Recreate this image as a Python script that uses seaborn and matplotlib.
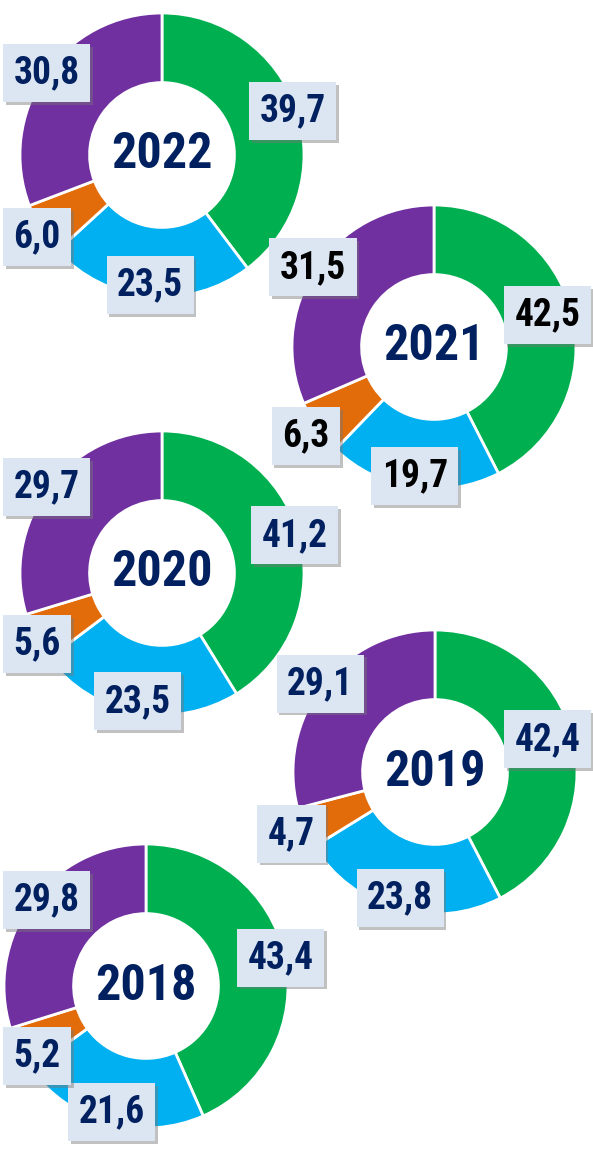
import numpy as np
import matplotlib
matplotlib.use("Agg")
import matplotlib.pyplot as plt
import matplotlib.patheffects as pe
import seaborn as sns
from matplotlib import font_manager

sns.set_theme(style="white")

years = ["2022", "2021", "2020", "2019", "2018"]
green = [39.7, 42.5, 41.2, 42.4, 43.4]
blue = [23.5, 19.7, 23.5, 23.8, 21.6]
orange = [6.0, 6.3, 5.6, 4.7, 5.2]
purple = [30.8, 31.5, 29.7, 29.1, 29.8]
label_colors = ["#002060", "#000000", "#002060", "#002060", "#002060"]

colors = ["#00B050", "#00B0F0", "#E36C0A", "#7030A0"]
# radial placement of value labels per segment (fraction of outer radius)
label_radius = [0.97, 0.92, 1.1, 1.02]

# donut centres in pixel layout (x, y from top)
centers = [(162, 155), (434, 347), (162, 573), (435, 772), (146, 986)]
R = 142

names = {f.name for f in font_manager.fontManager.ttflist}
cands = ["Liberation Sans Narrow", "Roboto Condensed", "Open Sans Condensed",
         "DejaVu Sans Condensed", "DejaVu Sans"]
fam = [f for f in cands if f in names] + ["DejaVu Sans"]
plt.rcParams['font.family'] = fam
stretch = "condensed"

W, H = 593, 1149
fig = plt.figure(figsize=(W / 100, H / 100), dpi=100)
ax = fig.add_axes([0, 0, 1, 1])

labels = []
for i, yr in enumerate(years):
    vals = [green[i], blue[i], orange[i], purple[i]]
    cx, cy = centers[i][0], H - centers[i][1]
    ax.pie(vals, colors=colors, startangle=90, counterclock=False,
           center=(cx, cy), radius=R,
           wedgeprops=dict(width=R * 0.49, edgecolor="white", linewidth=2))
    ax.text(cx, cy, yr, ha="center", va="center", fontsize=36,
            fontweight="bold", color="#002060", fontstretch=stretch)
    cum = np.cumsum([0] + vals[:-1])
    for k, (v, c0) in enumerate(zip(vals, cum)):
        ang = np.deg2rad((c0 + v / 2) * 3.6)
        rr = R * label_radius[k]
        lx = cx + rr * np.sin(ang)
        ly = cy + rr * np.cos(ang)
        t = ax.text(lx, ly, f"{v:.1f}".replace(".", ","), ha="center", va="center",
                    fontsize=27, fontweight="bold", color=label_colors[i],
                    fontstretch=stretch,
                    bbox=dict(boxstyle="square,pad=0.28", fc="#DCE6F2", ec="none"))
        t.get_bbox_patch().set_path_effects(
            [pe.SimplePatchShadow(offset=(2, -2), shadow_rgbFace="#777777", alpha=0.45),
             pe.Normal()])
        labels.append(t)

ax.set_xlim(0, W)
ax.set_ylim(0, H)
ax.set_aspect("equal")
ax.axis("off")

# keep label boxes inside the canvas
fig.canvas.draw()
r = fig.canvas.get_renderer()
for t in labels:
    bb = t.get_bbox_patch().get_window_extent(r)
    x, y = t.get_position()
    if bb.x1 > W - 2:
        x -= bb.x1 - (W - 2)
    if bb.x0 < 3:
        x += 3 - bb.x0
    if bb.y0 < 0:
        y += -bb.y0
    t.set_position((x, y))

fig.savefig("out.png", dpi=100)
